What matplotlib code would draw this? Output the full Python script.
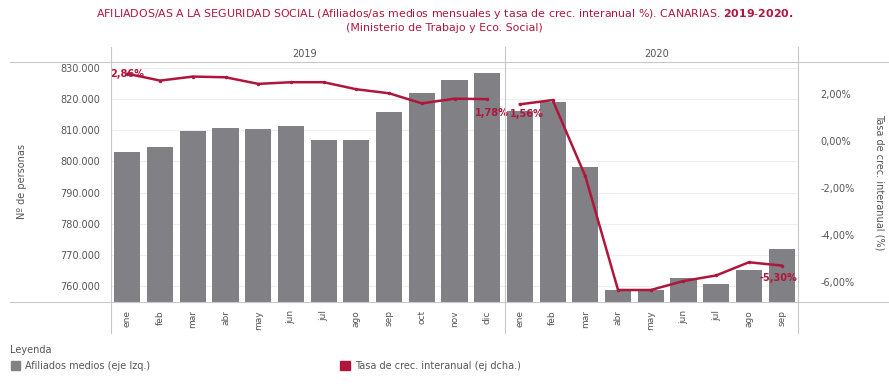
import matplotlib.pyplot as plt
import numpy as np

# Datos
meses = ['ene', 'feb', 'mar', 'abr', 'may', 'jun', 'jul', 'ago', 'sep', 'oct', 'nov', 'dic',
         'ene', 'feb', 'mar', 'abr', 'may', 'jun', 'jul', 'ago', 'sep']
afiliados = [803000, 804500, 809800, 810800, 810300, 811300, 806900, 806900, 815700, 821900,
             826200, 828500, 816300, 819200, 798300, 758900, 758700, 762700, 760600, 765100,
             771800]
tasa_2019 = [2.86, 2.57, 2.74, 2.71, 2.43, 2.50, 2.50, 2.20, 2.03, 1.60, 1.80, 1.78]
tasa_2020 = [1.56, 1.74, -1.50, -6.34, -6.34, -5.96, -5.72, -5.16, -5.30]
anios = ['2019', '2020']

rojo = '#b0163c'
gris = '#808085'
texto = '#555555'

fig = plt.figure(figsize=(8.89, 3.89), dpi=100)
ax = fig.add_axes([0.1249, 0.2237, 0.7727, 0.6169])
x = np.arange(len(meses))

ax.bar(x, afiliados, width=0.8, color=gris, zorder=2)
ax.set_xlim(-0.5, len(meses) - 0.5)
ax.set_ylim(754900, 831900)
ticks_izq = np.arange(760000, 830001, 10000)
ax.set_yticks(ticks_izq)
ax.set_yticklabels([f'{int(t):,}'.replace(',', '.') for t in ticks_izq], fontsize=7, color=texto)
ax.grid(axis='y', color='#eeeeee', linewidth=0.8, zorder=0)
ax.set_xticks(x)
ax.set_xticklabels(meses, rotation=90, fontsize=6.5, color=texto)
ax.tick_params(length=0, pad=6)
ax.tick_params(axis='y', pad=8)
for s in ax.spines.values():
    s.set_visible(False)
ax.set_ylabel('Nº de personas', fontsize=7, color=texto, labelpad=24)

ax2 = ax.twinx()
ax2.plot(x[:12], tasa_2019, color=rojo, lw=1.8, marker='o', ms=1.5, zorder=3)
ax2.plot(x[12:], tasa_2020, color=rojo, lw=1.8, marker='o', ms=1.5, zorder=3)
ax2.set_ylim(-6.85, 3.36)
ticks_dch = [2, 0, -2, -4, -6]
ax2.set_yticks(ticks_dch)
ax2.set_yticklabels([f'{t:.2f}%'.replace('.', ',') for t in ticks_dch], fontsize=7, color=texto)
ax2.tick_params(length=0, pad=16)
for s in ax2.spines.values():
    s.set_visible(False)
ax2.set_ylabel('Tasa de crec. interanual (%)', fontsize=7, color=texto, rotation=270, labelpad=22)

# Etiquetas de datos
etq = dict(color=rojo, fontsize=7, fontweight='bold', textcoords='offset points', va='center')
ax2.annotate('2,86%', (0, tasa_2019[0]), xytext=(-12, 0), ha='left', **etq)
ax2.annotate('1,78%', (11, tasa_2019[-1]), xytext=(3, -10), ha='center', **etq)
ax2.annotate('1,56%', (12, tasa_2020[0]), xytext=(5, -7), ha='center', **etq)
ax2.annotate('-5,30%', (20, tasa_2020[-1]), xytext=(-2, -9), ha='center', **etq)

# Líneas de cabecera y divisiones
lc = '#c8c8c8'
fig.add_artist(plt.Line2D([0.011, 1.0], [0.8406, 0.8406], color=lc, lw=0.8))
fig.add_artist(plt.Line2D([0.011, 1.0], [0.2237, 0.2237], color=lc, lw=0.8))
for xf in [0.1249, 0.5681, 0.8976]:
    fig.add_artist(plt.Line2D([xf, xf], [0.145, 0.88], color=lc, lw=0.8))
fig.text(0.343, 0.862, anios[0], fontsize=7, color=texto, ha='center', va='center')
fig.text(0.739, 0.862, anios[1], fontsize=7, color=texto, ha='center', va='center')

# Título
fig.text(0.5, 0.965, 'AFILIADOS/AS A LA SEGURIDAD SOCIAL (Afiliados/as medios mensuales y tasa de crec. interanual %). CANARIAS. '
         r'$\bf{2019\text{-}2020.}$', fontsize=7.9, color=rojo, ha='center', va='center')
fig.text(0.5, 0.928, '(Ministerio de Trabajo y Eco. Social)', fontsize=7.9, color=rojo,
         ha='center', va='center')

# Leyenda
fig.text(0.011, 0.10, 'Leyenda', fontsize=7, color=texto, va='center')
fig.add_artist(plt.Rectangle((0.012, 0.048), 0.011, 0.025, color=gris))
fig.text(0.028, 0.06, 'Afiliados medios (eje Izq.)', fontsize=7, color=texto, va='center')
fig.add_artist(plt.Rectangle((0.383, 0.048), 0.011, 0.025, color=rojo))
fig.text(0.399, 0.06, 'Tasa de crec. interanual (ej dcha.)', fontsize=7, color=texto, va='center')

fig.savefig('out.png', dpi=100)
